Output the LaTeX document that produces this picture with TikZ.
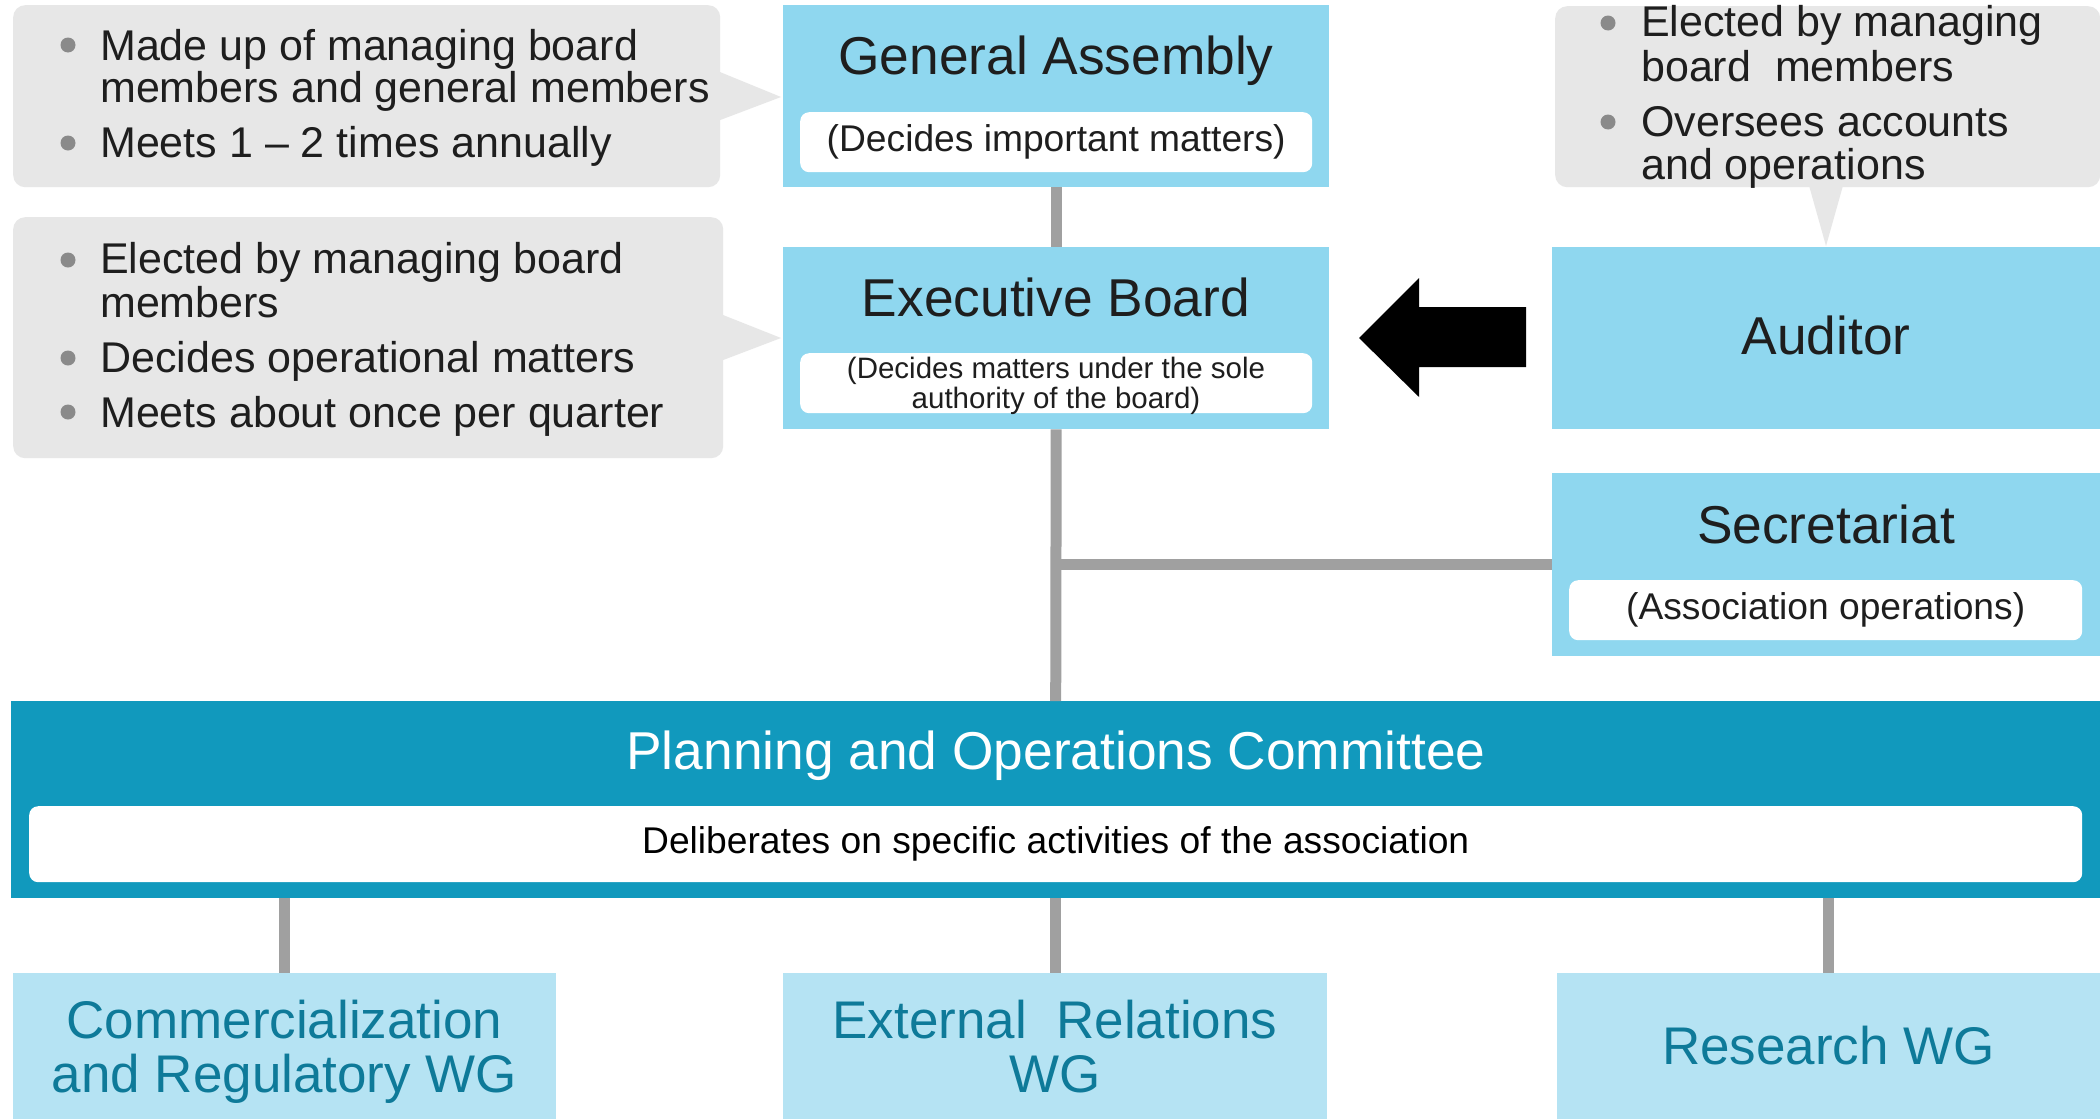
\documentclass[tikz,border=0pt]{standalone}
\usepackage{fontspec}
\setmainfont{Liberation Sans}
\definecolor{boxblue}{HTML}{8FD7EF}
\definecolor{pocblue}{HTML}{1199BD}
\definecolor{wgblue}{HTML}{B5E3F3}
\definecolor{wgtext}{HTML}{0E7A99}
\definecolor{callgray}{HTML}{E7E7E7}
\definecolor{linegray}{HTML}{A0A0A0}
\definecolor{bulletgray}{HTML}{8A8A8A}
\definecolor{txt}{HTML}{1E1E1E}
\tikzset{
  panel/.style={rectangle, draw=none, inner sep=0pt, anchor=north west},
  bluebox/.style={panel, fill=boxblue},
  wgbox/.style={panel, fill=wgblue},
  pobox/.style={panel, fill=pocblue},
  inset/.style={panel, fill=white, rounded corners=9pt},
  callbox/.style={panel, fill=callgray, rounded corners=12pt},
  pointer/.style={fill=callgray, draw=none},
  conn/.style={draw=linegray, line width=11pt},
  bigtitle/.style={inner sep=0pt, anchor=base, text=txt, font=\fontsize{53.3}{56}\selectfont},
  subtxt/.style={text=txt, font=\fontsize{37.2}{40}\selectfont},
  bullettxt/.style={inner sep=0pt, anchor=base west, text=txt, font=\fontsize{43}{45}\selectfont},
  dot/.style={circle, fill=bulletgray, inner sep=0pt, minimum size=15pt},
  wgtxt/.style={inner sep=0pt, anchor=base, text=wgtext, font=\fontsize{53}{56}\selectfont},
}
\begin{document}
\begin{tikzpicture}[x=1pt,y=-1pt]
\useasboundingbox (0,0) rectangle (2100,1119);
\fill[white] (0,0) rectangle (2100,1119);

% main boxes
\node[bluebox, minimum width=546pt, minimum height=182pt] (ga) at (783,5) {};
\node[bluebox, minimum width=546pt, minimum height=182pt] (eb) at (783,247) {};
\node[bluebox, minimum width=548pt, minimum height=182pt] (aud) at (1552,247) {};
\node[bluebox, minimum width=548pt, minimum height=183pt] (sec) at (1552,473) {};
\node[pobox, minimum width=2089pt, minimum height=197pt] (po) at (11,701) {};
\node[wgbox, minimum width=543pt, minimum height=146pt] (wg1) at (13,973) {};
\node[wgbox, minimum width=544pt, minimum height=146pt] (wg2) at (783,973) {};
\node[wgbox, minimum width=543pt, minimum height=146pt] (wg3) at (1557,973) {};

% connectors
\draw[conn] (ga.south) -- (eb.north);
\draw[conn] (eb.south) -- (po.north);
\draw[conn] (sec.west) -- (eb.south |- sec.west);
\draw[conn] (wg1.north |- po.south) -- (wg1.north);
\draw[conn] (wg2.north |- po.south) -- (wg2.north);
\draw[conn] (wg3.north |- po.south) -- (wg3.north);

% titles
\node[bigtitle] (gat) at (1056,74) {General Assembly};
\node[bigtitle] (ebt) at (1056,316) {Executive Board};
\node[bigtitle] (audt) at (1826,354) {Auditor};
\node[bigtitle] (sect) at (1826,543) {Secretariat};
\node[bigtitle, text=white] (pot) at (1056,769) {Planning and Operations Committee};

% insets
\node[inset, minimum width=512pt, minimum height=60pt] (gasub) at (800,112) {};
\node[subtxt] (gasubt) at (gasub.center) {(Decides important matters)};
\node[inset, minimum width=512pt, minimum height=60pt] (ebsub) at (800,353) {};
\node[inset, minimum width=513pt, minimum height=60pt] (secsub) at (1569,580) {};
\node[subtxt] (secsubt) at (secsub.center) {(Association operations)};
\node[inset, minimum width=2053pt, minimum height=76pt] (posub) at (29,806) {};
\node[subtxt, text=black] (posubt) at (posub.center) {Deliberates on specific activities of the association};
\node[inner sep=0pt, anchor=base, text=txt, font=\fontsize{29.5}{30}\selectfont] (ebs1) at (1056,378) {(Decides matters under the sole};
\node[inner sep=0pt, anchor=base, text=txt, font=\fontsize{29.5}{30}\selectfont] (ebs2) at (1056,408) {authority of the board)};

% WG texts
\node[wgtxt] (w1a) at (284.5,1038) {Commercialization};
\node[wgtxt] (w1b) at (284.5,1092) {and Regulatory WG};
\node[wgtxt] (w2a) at (1055,1038) {External\ \ Relations};
\node[wgtxt] (w2b) at (1055,1092) {WG};
\node[wgtxt] (w3a) at (1828.5,1064) {Research WG};

% block arrow
\fill[black] (1359,338) -- (1419,278) -- (1419,307) -- (1526,307) -- (1526,367) -- (1419,367) -- (1419,397) -- cycle;

% callout 1
\node[callbox, minimum width=707pt, minimum height=182pt] (c1) at (13,5) {};
\fill[pointer] (715,70) -- (781,97) -- (715,122) -- cycle;
\node[dot] (c1d1) at (68,45) {};
\node[bullettxt] (c1l1) at (100,60) {Made up of managing board};
\node[bullettxt] (c1l2) at (100,102) {members and general members};
\node[dot] (c1d2) at (68,143) {};
\node[bullettxt] (c1l3) at (100,157) {Meets 1 – 2 times annually};

% callout 2
\node[callbox, minimum width=710pt, minimum height=241pt] (c2) at (13,217) {};
\fill[pointer] (718,313) -- (781,338) -- (718,362) -- cycle;
\node[dot] (c2d1) at (68,260) {};
\node[bullettxt] (c2l1) at (100,273) {Elected by managing board};
\node[bullettxt] (c2l2) at (100,317) {members};
\node[dot] (c2d2) at (68,358) {};
\node[bullettxt] (c2l3) at (100,372) {Decides operational matters};
\node[dot] (c2d3) at (68,412) {};
\node[bullettxt] (c2l4) at (100,427) {Meets about once per quarter};

% callout 3
\node[callbox, minimum width=545pt, minimum height=181pt] (c3) at (1555,6) {};
\fill[pointer] (1808,182) -- (1826,246) -- (1844,182) -- cycle;
\node[dot] (c3d1) at (1608,23) {};
\node[bullettxt] (c3l1) at (1641,36) {Elected by managing};
\node[bullettxt] (c3l2) at (1641,81) {board\ \ members};
\node[dot] (c3d2) at (1608,122) {};
\node[bullettxt] (c3l3) at (1641,136) {Oversees accounts};
\node[bullettxt] (c3l4) at (1641,179) {and operations};
\end{tikzpicture}
\end{document}
